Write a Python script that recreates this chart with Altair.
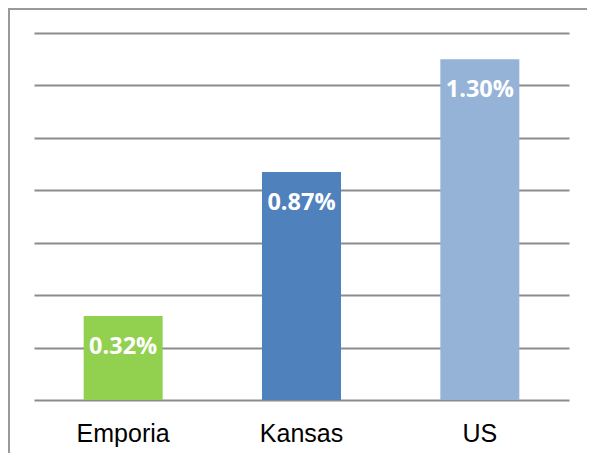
import altair as alt
import pandas as pd

categories = ["Emporia", "Kansas", "US"]
values = [0.32, 0.87, 1.30]
labels = ["0.32%", "0.87%", "1.30%"]
colors = ["#92D050", "#4F81BD", "#95B3D7"]

df = pd.DataFrame({"cat": categories, "val": values, "lab": labels})

W, H = 535, 367

x = alt.X("cat:N", sort=categories, title=None,
          scale=alt.Scale(paddingInner=0.557, paddingOuter=0.2785),
          axis=alt.Axis(domain=False, ticks=False, labelAngle=0, labelPadding=21,
                        labelFont="Liberation Sans", labelFontSize=25, labelColor="#000000",
                        grid=False))
y = alt.Y("val:Q", title=None,
          scale=alt.Scale(domain=[0, 1.4], nice=False),
          axis=alt.Axis(values=[0, 0.2, 0.4, 0.6, 0.8, 1.0, 1.2, 1.4], labels=False, ticks=False,
                        domain=False, grid=True, gridColor="#8c8c8c", gridWidth=2))

bars = alt.Chart(df).mark_bar().encode(
    x=x, y=y,
    color=alt.Color("cat:N", scale=alt.Scale(domain=categories, range=colors), legend=None),
)

text = alt.Chart(df).mark_text(
    font="Open Sans", fontWeight="bold", fontSize=23.5, color="white",
    baseline="middle", dy=31,
).encode(x=alt.X("cat:N", sort=categories), y="val:Q", text="lab:N")

border_v = alt.Chart(df).mark_rule(color="#999999", strokeWidth=2).encode(
    x=alt.value(-25), y=alt.value(-30), y2=alt.value(H + 60))
border_h = alt.Chart(df).mark_rule(color="#999999", strokeWidth=2).encode(
    x=alt.value(-25), x2=alt.value(W + 30), y=alt.value(-24))

chart = alt.layer(bars, text, border_v, border_h).properties(
    width=W, height=H,
    autosize=alt.AutoSizeParams(type="none"),
    padding={"left": 26, "top": 25, "right": 18, "bottom": 53},
).configure_view(stroke=None)

chart.save("out.html", embed_options={"renderer": "svg", "actions": False})
